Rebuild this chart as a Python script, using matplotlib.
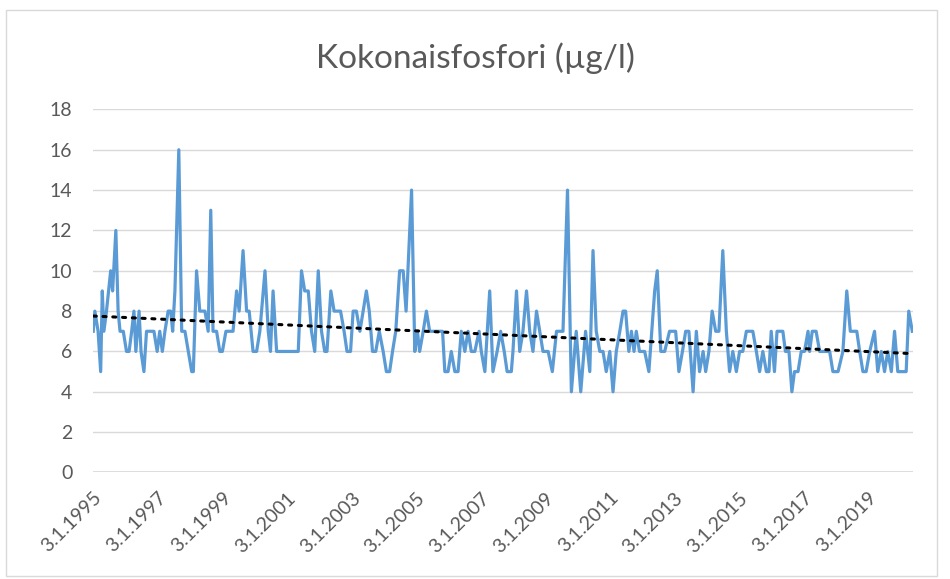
import matplotlib
matplotlib.use("Agg")
import matplotlib.pyplot as plt
import numpy as np
from matplotlib.patches import Rectangle

plt.rcParams['font.family'] = ['Lato', 'DejaVu Sans']

title = "Kokonaisfosfori (µg/l)"

# sample dates as decimal years
years = [
    1995.01, 1995.06, 1995.16, 1995.24, 1995.29, 1995.34, 1995.42, 1995.55, 1995.61, 1995.71,
    1995.78, 1995.84, 1995.94, 1996.04, 1996.12, 1996.20, 1996.27, 1996.33, 1996.43, 1996.49,
    1996.58, 1996.66, 1996.76, 1996.89, 1996.99, 1997.07, 1997.15, 1997.23, 1997.33, 1997.41,
    1997.47, 1997.54, 1997.66, 1997.75, 1997.85, 1998.06, 1998.11, 1998.21, 1998.31, 1998.47,
    1998.57, 1998.65, 1998.72, 1998.83, 1998.93, 1999.01, 1999.12, 1999.34, 1999.45, 1999.53,
    1999.65, 1999.76, 1999.84,
    1999.96, 2000.07, 2000.17, 2000.33, 2000.43, 2000.50, 2000.58, 2000.69, 2000.89, 2001.15,
    2001.36, 2001.46, 2001.56, 2001.67, 2001.77, 2001.87, 2001.98, 2002.08, 2002.18, 2002.25,
    2002.37, 2002.47, 2002.56, 2002.67, 2002.78, 2002.87, 2002.98, 2003.06, 2003.16, 2003.27,
    2003.37, 2003.47, 2003.56, 2003.66, 2003.76, 2003.87, 2003.99, 2004.09, 2004.19, 2004.28,
    2004.38, 2004.50, 2004.61, 2004.70, 2004.87, 2004.97, 2005.05, 2005.12, 2005.23, 2005.33,
    2005.43, 2005.59, 2005.74, 2005.83, 2005.90, 2006.00, 2006.10, 2006.21, 2006.31, 2006.41,
    2006.52, 2006.62, 2006.72, 2006.83, 2006.96, 2007.03, 2007.14, 2007.29, 2007.39, 2007.52,
    2007.63, 2007.74, 2007.83, 2007.96, 2008.01, 2008.12, 2008.22, 2008.32, 2008.43, 2008.53,
    2008.63, 2008.74, 2008.84, 2008.94, 2009.10, 2009.23, 2009.36, 2009.46, 2009.56, 2009.70,
    2009.82, 2009.97, 2010.11, 2010.26, 2010.39, 2010.49, 2010.59,
    2010.70, 2010.80, 2010.90, 2011.01, 2011.11, 2011.21, 2011.32, 2011.42, 2011.50, 2011.60,
    2011.68, 2011.76, 2011.83, 2011.93, 2012.09, 2012.22, 2012.40, 2012.48, 2012.59, 2012.71,
    2012.86, 2012.97, 2013.05, 2013.15, 2013.26, 2013.36, 2013.46, 2013.59, 2013.69, 2013.79,
    2013.90, 2013.98, 2014.08, 2014.18, 2014.29, 2014.39, 2014.51, 2014.62, 2014.72, 2014.82,
    2014.93, 2015.03, 2015.13, 2015.24, 2015.34, 2015.44, 2015.55, 2015.65, 2015.75, 2015.86,
    2015.94, 2016.01, 2016.11, 2016.19, 2016.29, 2016.37, 2016.45, 2016.56, 2016.65, 2016.73,
    2016.84, 2016.94, 2017.04, 2017.15, 2017.20, 2017.28, 2017.40, 2017.51, 2017.66, 2017.82,
    2017.92, 2018.08, 2018.23, 2018.35, 2018.46, 2018.56, 2018.66, 2018.75, 2018.85, 2018.95,
    2019.06, 2019.21, 2019.31, 2019.42, 2019.52, 2019.62, 2019.73, 2019.83, 2019.93, 2020.09,
    2020.19, 2020.27, 2020.38,
]

values = [
    7, 8, 7, 5, 9, 7, 8, 10, 9, 12,
    8, 7, 7, 6, 6, 7, 8, 6, 8, 6,
    5, 7, 7, 7, 6, 7, 6, 7, 8, 8,
    7, 9, 16, 7, 7, 5, 5, 10, 8, 8,
    7, 13, 7, 7, 6, 6, 7, 7, 9, 8,
    11, 8, 8,
    6, 6, 7, 10, 7, 6, 9, 6, 6, 6,
    6, 10, 9, 9, 7, 6, 10, 7, 6, 6,
    9, 8, 8, 8, 7, 6, 6, 8, 8, 7,
    8, 9, 8, 6, 6, 7, 6, 5, 5, 6,
    7, 10, 10, 8, 14, 6, 7, 6, 7, 8,
    7, 7, 7, 7, 5, 5, 6, 5, 5, 7,
    6, 7, 6, 6, 7, 6, 5, 9, 5, 6,
    7, 6, 5, 5, 6, 9, 6, 7, 9, 7,
    6, 8, 7, 6, 6, 5, 7, 7, 7, 14,
    4, 7, 4, 7, 5, 11, 7,
    6, 6, 5, 6, 4, 6, 7, 8, 8, 6,
    7, 6, 7, 6, 6, 5, 9, 10, 6, 6,
    7, 7, 7, 5, 6, 7, 7, 4, 7, 5,
    6, 5, 6, 8, 7, 7, 11, 7, 5, 6,
    5, 6, 6, 7, 7, 7, 6, 5, 6, 5,
    5, 7, 5, 7, 7, 7, 6, 6, 4, 5,
    5, 6, 6, 7, 6, 7, 7, 6, 6, 6,
    5, 5, 6, 9, 7, 7, 7, 6, 5, 5,
    6, 7, 5, 6, 5, 6, 5, 7, 5, 5,
    5, 8, 7,
]

tick_years = [1995, 1997, 1999, 2001, 2003, 2005, 2007, 2009, 2011, 2013, 2015, 2017, 2019]
tick_labels = ["3.1.%d" % y for y in tick_years]
y_ticks = [0, 2, 4, 6, 8, 10, 12, 14, 16, 18]

x = np.array(years)
v = np.array(values, dtype=float)

fig = plt.figure(figsize=(9.5, 5.79), dpi=100)
fig.patch.set_facecolor('white')
border = Rectangle((0.006, 0.006), 0.980, 0.977, transform=fig.transFigure,
                   facecolor='none', edgecolor='#D9D9D9', linewidth=1.0, zorder=-1)
fig.add_artist(border)

ax = fig.add_axes([0.098, 0.184, 0.863, 0.627])
ax.set_facecolor('none')

ax.plot(x, v, color='#5B9BD5', linewidth=2.3, solid_joinstyle='round', zorder=3)

coef = np.polyfit(x, v, 1)
xt = np.array([x.min(), x.max()])
ax.plot(xt, np.polyval(coef, xt), color='black', linestyle=(0, (1, 2.2)),
        linewidth=2.2, dash_capstyle='round', zorder=4)

ax.set_ylim(0, 18)
ax.set_yticks(y_ticks)
ax.set_xlim(1995 + 2/365, 2020.40)
ax.set_xticks([t + 2/365 for t in tick_years])
ax.set_xticklabels(tick_labels, rotation=45, ha='right', va='top',
                   rotation_mode='anchor', fontsize=14, color='#595959')
ax.tick_params(axis='y', labelsize=14, labelcolor='#595959', length=0, pad=15)
ax.tick_params(axis='x', length=0, pad=12)
ax.grid(axis='y', color='#D9D9D9', linewidth=1.0)
for s in ax.spines.values():
    s.set_visible(False)
ax.axhline(0, color='#D9D9D9', linewidth=1.2, zorder=1)

fig.text(0.5, 0.9, title, ha='center', va='center', fontsize=24, color='#595959')

fig.savefig('out.png', dpi=100)
